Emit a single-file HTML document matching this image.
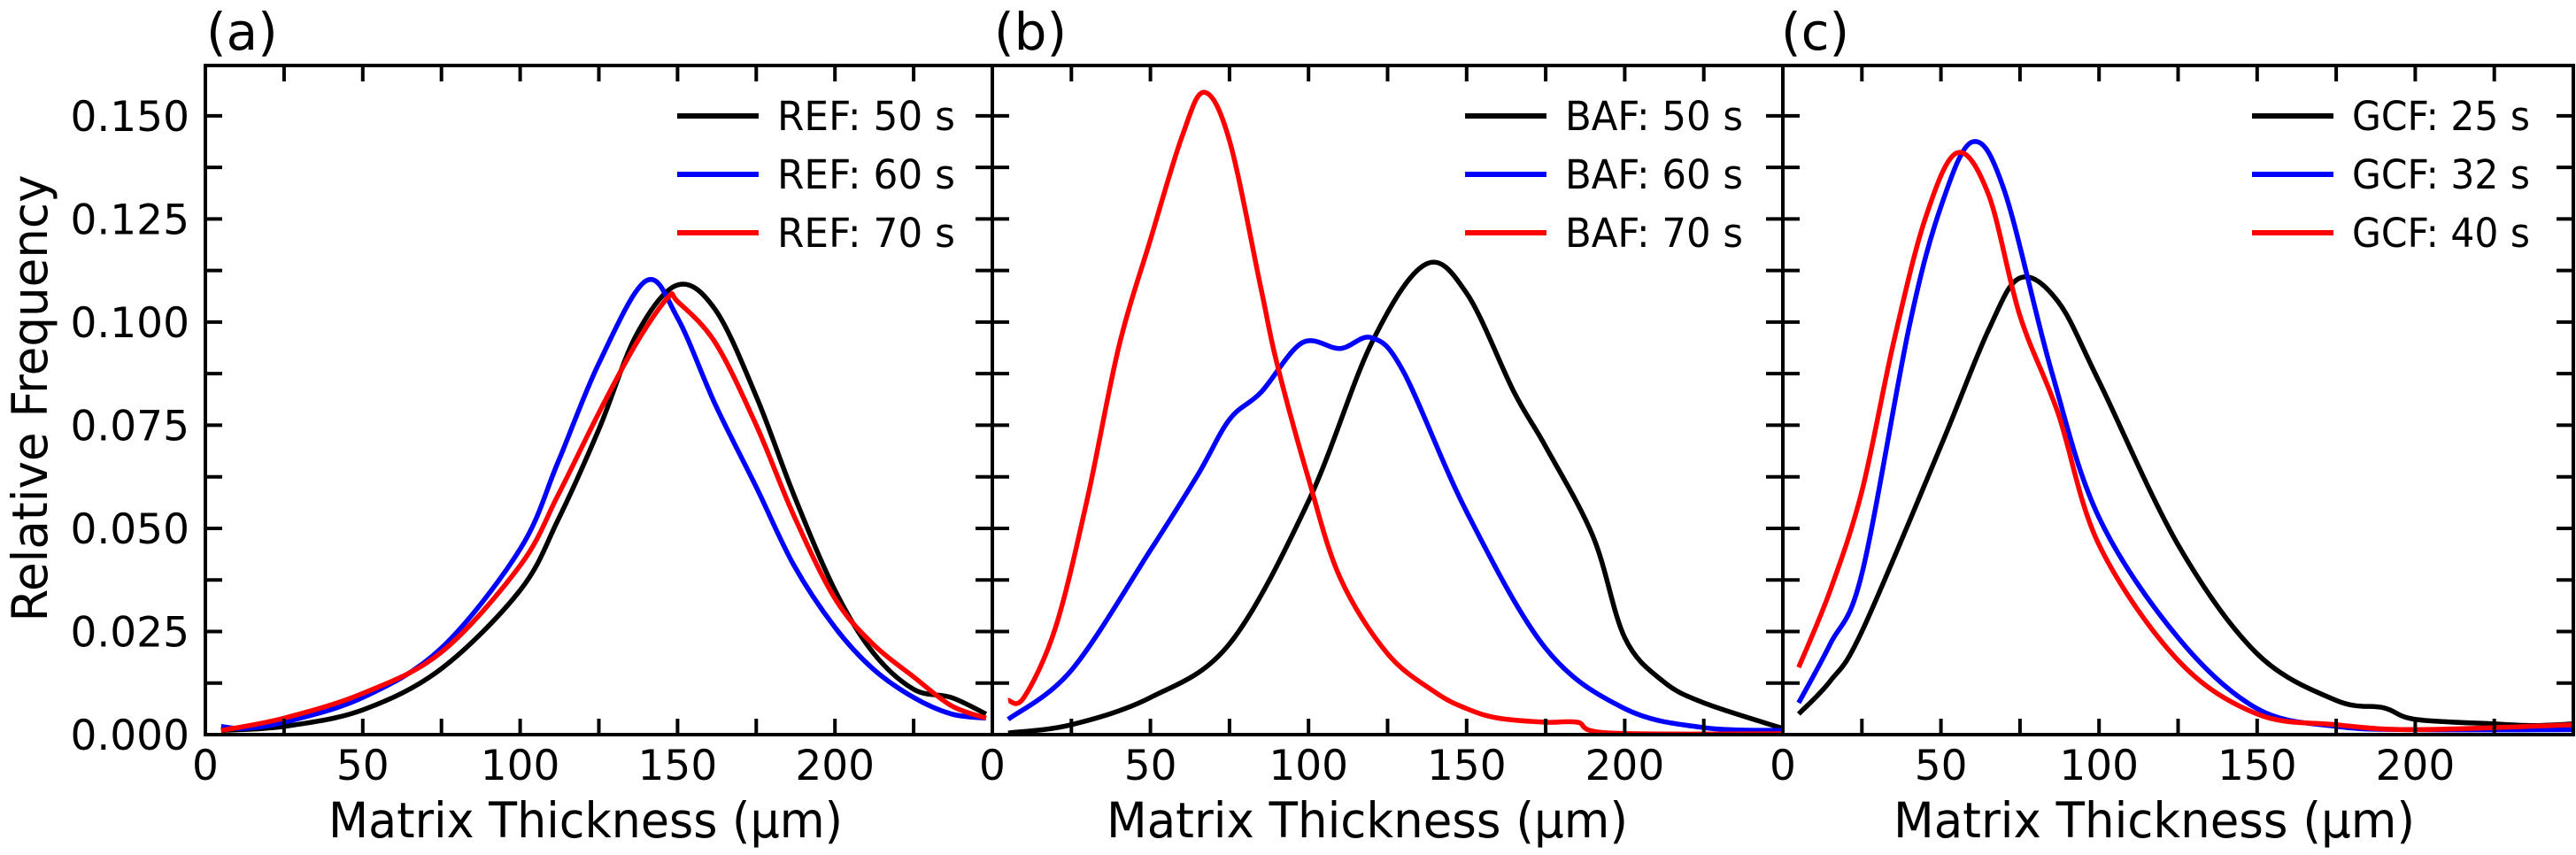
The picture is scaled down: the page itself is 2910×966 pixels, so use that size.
<!DOCTYPE html>
<html><head><meta charset="utf-8">
<style>
html,body{margin:0;padding:0;background:#fff;}
svg{display:block;}
text{font-family:"DejaVu Sans","Liberation Sans",sans-serif;fill:#000;}
</style></head>
<body>
<svg id="chart" width="2910" height="966" viewBox="0 0 2910 966" xmlns="http://www.w3.org/2000/svg"></svg>
<script>
const xTicks=[0,50,100,150,200];
const yTicks=[0,0.025,0.05,0.075,0.1,0.125,0.15];
const yTickLabels=["0.000","0.025","0.050","0.075","0.100","0.125","0.150"];
const panelLabels=["(a)","(b)","(c)"];
const legendA=["REF: 50 s","REF: 60 s","REF: 70 s"];
const legendB=["BAF: 50 s","BAF: 60 s","BAF: 70 s"];
const legendC=["GCF: 25 s","GCF: 32 s","GCF: 40 s"];
const colors=["#000000","#0000ff","#ff0000"];
// panel a
const aX50=[5,25,50,75,100,112,125,137,150,162,175,187,200,212,225,237,248];
const aY50=[0.001,0.002,0.006,0.016,0.035,0.052,0.074,0.097,0.109,0.103,0.082,0.058,0.035,0.020,0.011,0.009,0.005];
const aX60=[5,12,25,50,75,100,112,125,140,150,162,175,187,200,212,225,237,248];
const aY60=[0.002,0.0015,0.003,0.009,0.021,0.045,0.066,0.090,0.110,0.101,0.080,0.060,0.041,0.026,0.016,0.009,0.005,0.004];
const aX70=[5,25,50,75,100,112,125,137,147,150,162,175,187,200,212,225,237,248];
const aY70=[0.001,0.004,0.010,0.020,0.041,0.058,0.078,0.095,0.106,0.105,0.095,0.075,0.053,0.033,0.022,0.014,0.007,0.004];
// panel b
const bX50=[5,25,50,75,100,120,137,150,165,175,190,200,212,225,250];
const bY50=[0.0004,0.0024,0.009,0.022,0.0566,0.095,0.114,0.107,0.083,0.0698,0.048,0.0235,0.013,0.0077,0.0015];
const bX60=[5,25,50,65,75,85,98,110,120,130,150,175,200,225,250];
const bY60=[0.0037,0.0156,0.0447,0.063,0.0764,0.083,0.095,0.0936,0.0962,0.088,0.054,0.0209,0.0063,0.0017,0.001];
const bX70=[5,10,20,30,40,50,60,67,75,85,90,100,110,125,140,150,160,175,185,195,250];
const bY70=[0.0083,0.009,0.026,0.057,0.094,0.120,0.145,0.1557,0.144,0.108,0.09,0.062,0.038,0.0196,0.0103,0.0063,0.004,0.003,0.003,0.0004,0.0002];
// panel c
const cX25=[5,15,25,50,65,75,87,100,125,150,175,190,200,225,237,250];
const cY25=[0.005,0.013,0.025,0.070,0.098,0.1107,0.105,0.0856,0.046,0.0196,0.0083,0.0065,0.0037,0.0026,0.0022,0.0026];
const cX32=[5,15,25,40,50,60,70,85,100,125,150,175,200,250];
const cY32=[0.0077,0.022,0.039,0.099,0.128,0.1437,0.132,0.088,0.0526,0.0235,0.0063,0.002,0.0012,0.0012];
const cX40=[5,15,25,35,45,55,65,75,87,100,125,150,175,200,250];
const cY40=[0.0163,0.035,0.059,0.095,0.125,0.141,0.131,0.1015,0.078,0.046,0.018,0.005,0.0024,0.0012,0.0024];

const NS="http://www.w3.org/2000/svg";
const svg=document.getElementById('chart');
function mk(tag,attrs,parent){const e=document.createElementNS(NS,tag);for(const k in attrs)e.setAttribute(k,attrs[k]);(parent||svg).appendChild(e);return e;}
const TOP=74,BOT=830,YMAX=0.1622,XMAX=250;
const panels=[
 {l:232,r:1121,leg:legendA,lx:765,series:[[aX50,aY50],[aX60,aY60],[aX70,aY70]],labX:233},
 {l:1121,r:2014,leg:legendB,lx:1655,series:[[bX50,bY50],[bX60,bY60],[bX70,bY70]],labX:1123},
 {l:2014,r:2907,leg:legendC,lx:2544,series:[[cX25,cY25],[cX32,cY32],[cX40,cY40]],labX:2012}
];
const xlabPos=[[371,581],[1250,589],[2139,589]];
function yS(v){return BOT-(v/YMAX)*(BOT-TOP);}
function pathFrom(xs,ys,xS){
  const p=xs.map((x,i)=>[xS(x),yS(ys[i])]);
  let d=`M${p[0][0]},${p[0][1]}`;
  for(let i=0;i<p.length-1;i++){
    const p0=p[i-1]||p[i],p1=p[i],p2=p[i+1],p3=p[i+2]||p2;
    const c1=[p1[0]+(p2[0]-p0[0])/6,p1[1]+(p2[1]-p0[1])/6];
    const c2=[p2[0]-(p3[0]-p1[0])/6,p2[1]-(p3[1]-p1[1])/6];
    d+=` C${c1[0]},${c1[1]} ${c2[0]},${c2[1]} ${p2[0]},${p2[1]}`;
  }
  return d;
}
panels.forEach((P,pi)=>{
  const g=mk('g',{});
  
  
  const xS=v=>P.l+v/XMAX*(P.r-P.l);
  const cp=mk('clipPath',{id:'clip'+pi},g);
  mk('rect',{x:P.l,y:TOP,width:P.r-P.l,height:BOT-TOP},cp);
  P.series.forEach((s,si)=>{
    const path=mk('path',{d:pathFrom(s[0],s[1],xS),fill:'none',stroke:colors[si],'stroke-width':5.5,'stroke-linejoin':'round','clip-path':`url(#clip${pi})`},g);
    
    
  });
  for(let v=0;v<=XMAX;v+=25){
    const x=xS(v);
    mk('line',{x1:x,x2:x,y1:BOT,y2:BOT-18,stroke:'#000','stroke-width':4},g);
    mk('line',{x1:x,x2:x,y1:TOP,y2:TOP+18,stroke:'#000','stroke-width':4},g);
  }
  for(let v=0;v<=0.16;v+=0.0125){
    const y=yS(v);
    mk('line',{x1:P.l,x2:P.l+19,y1:y,y2:y,stroke:'#000','stroke-width':4},g);
    mk('line',{x1:P.r,x2:P.r-19,y1:y,y2:y,stroke:'#000','stroke-width':4},g);
  }
  const fr=mk('rect',{x:P.l,y:TOP,width:P.r-P.l,height:BOT-TOP,fill:'none',stroke:'#000','stroke-width':4},g);
  
  
  xTicks.forEach(v=>{
    const t=mk('text',{x:xS(v),y:881,'font-size':47,'text-anchor':'middle'},g);
    t.textContent=v;
    
    
  });
  const xl=mk('text',{x:xlabPos[pi][0],y:946,'font-size':55,textLength:xlabPos[pi][1],lengthAdjust:'spacingAndGlyphs'},g);
  xl.textContent='Matrix Thickness (μm)';
  
  
  const pl=mk('text',{x:P.labX,y:56,'font-size':58},g);
  pl.textContent=panelLabels[pi];
  
  
  P.leg.forEach((name,i)=>{
    const y=131+i*66;
    const ln=mk('line',{x1:P.lx,x2:P.lx+92,y1:y,y2:y,stroke:colors[i],'stroke-width':6},g);
    
    
    const t=mk('text',{x:P.lx+113,y:y+16,'font-size':45,textLength:201,lengthAdjust:'spacingAndGlyphs'},g);
    t.textContent=name;
    
    
  });
});
yTicks.forEach((v,i)=>{
  const t=mk('text',{x:214,y:yS(v)+17,'font-size':47,'text-anchor':'end'});
  t.textContent=yTickLabels[i];
  
  
});
const yl=mk('text',{x:0,y:0,'font-size':55,'text-anchor':'middle',transform:'translate(53,450) rotate(-90)',textLength:505,lengthAdjust:'spacingAndGlyphs'});
yl.textContent='Relative Frequency';


</script>
</body></html>
